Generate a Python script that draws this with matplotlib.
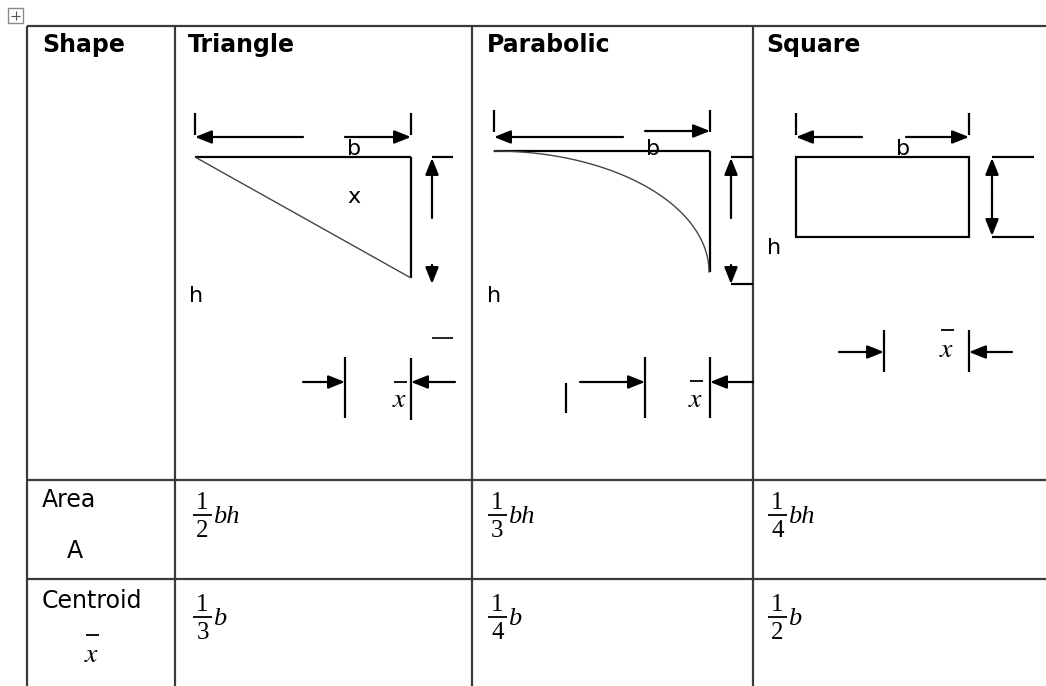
import matplotlib.pyplot as plt
from matplotlib.patches import Rectangle
import numpy as np

plt.rcParams['mathtext.fontset'] = 'stix'

# table content
headers = ["Shape", "Triangle", "Parabolic", "Square"]
row_labels = ["Area", "Centroid"]
area_num = ["1", "1", "1"]
area_den = ["2", "3", "4"]
area_var = "bh"
centroid_num = ["1", "1", "1"]
centroid_den = ["3", "4", "2"]
centroid_var = "b"

# layout in pixels
W, H = 1046, 686
col_x = [27, 175, 472, 753, 1046]
row_y = [26, 480, 579, 686]

fig = plt.figure(figsize=(W / 100, H / 100), dpi=100)
ax = fig.add_axes([0, 0, 1, 1])
ax.set_xlim(0, W)
ax.set_ylim(H, 0)
ax.axis('off')

GRID = '#3a3a3a'
INK = 'black'
SANS = 'DejaVu Sans'
SERIF = 'Liberation Serif'


def line(x0, y0, x1, y1, lw=1.6, color=INK):
    ax.plot([x0, x1], [y0, y1], color=color, lw=lw, solid_capstyle='butt')


def arrow(x0, y0, x1, y1):
    # head drawn at (x1, y1)
    ax.annotate('', xy=(x1, y1), xytext=(x0, y0),
                arrowprops=dict(arrowstyle='-|>,head_length=1.0,head_width=0.4',
                                color=INK, lw=1.6, shrinkA=0, shrinkB=0,
                                mutation_scale=10))


def xbar(cx, bar_y, x_y):
    # Word-style x with a bar set well above it
    line(cx - 6.5, bar_y, cx + 6.5, bar_y, lw=1.3)
    ax.text(cx, x_y, r'$x$', fontsize=20, ha='center', va='center')


def label(x, y, s, size=16):
    ax.text(x, y, s, fontsize=size, family=SANS, ha='left', va='baseline')


def fraction(x, bar_y, num, den, var):
    ax.text(x + 9.5, bar_y - 1, num, fontsize=18, family=SERIF, ha='center', va='bottom')
    line(x, bar_y, x + 19, bar_y, lw=1.3)
    ax.text(x + 9.5, bar_y + 5, den, fontsize=18, family=SERIF, ha='center', va='top')
    ax.text(x + 20, bar_y + 8, var, fontsize=19, family=SERIF, style='italic',
            ha='left', va='baseline')


# grid lines
line(col_x[0], row_y[0], col_x[-1], row_y[0], color=GRID)
for y in row_y[1:3]:
    line(col_x[0], y, col_x[-1], y, color=GRID)
for x in col_x[:4]:
    line(x, row_y[0], x, row_y[-1], color=GRID)

# move handle icon
ax.add_patch(Rectangle((8, 8), 15, 15, fill=False, ec='#8a8a8a', lw=1))
line(11, 15.5, 20, 15.5, lw=0.8, color='#555555')
line(15.5, 11, 15.5, 20, lw=0.8, color='#555555')

# headers
head_x = [42, 188, 487, 766]
for hx, txt in zip(head_x, headers):
    ax.text(hx, 52, txt, fontsize=17, fontweight='bold', family=SANS,
            va='baseline', ha='left')

# ---- triangle ----
line(195, 113, 195, 135)
line(411, 113, 411, 135)
arrow(303, 137, 195, 137)
arrow(345, 137, 411, 137)
label(347, 155, 'b')
line(195, 157, 411, 157)
line(411, 157, 411, 278)
line(195, 157, 411, 278, lw=1.0, color='#444444')
label(347, 203, 'x')
line(432, 157, 453, 157)
arrow(432, 218, 432, 158)
arrow(432, 265, 432, 284)
label(189, 302, 'h')
line(432, 338, 453, 338, lw=1.2)
line(345, 357, 345, 418)
line(411, 358, 411, 420)
arrow(303, 382, 345, 382)
arrow(455, 382, 411, 382)
xbar(400, 382, 399)

# ---- parabolic ----
line(494, 110, 494, 132)
line(710, 110, 710, 132)
arrow(623, 137, 494, 137)
arrow(645, 131, 710, 131)
label(646, 155, 'b')
line(494, 151, 710, 151)
line(710, 151, 710, 272)
th = np.linspace(0, np.pi / 2, 100)
ax.plot(494 + 215 * np.sin(th), 151 + 121 * (1 - np.cos(th)), color='#444444', lw=1.0)
line(731, 157, 753, 157)
arrow(731, 218, 731, 158)
arrow(731, 265, 731, 284)
line(731, 284, 753, 284)
label(487, 302, 'h')
line(566, 383, 566, 413)
arrow(580, 382, 645, 382)
line(645, 357, 645, 418)
line(710, 357, 710, 418)
arrow(753, 382, 710, 382)
xbar(696, 381, 399)

# ---- square ----
line(796, 113, 796, 135)
line(969, 113, 969, 135)
arrow(862, 137, 796, 137)
arrow(906, 137, 969, 137)
label(896, 155, 'b')
ax.add_patch(Rectangle((796, 157), 173, 80, fill=False, ec=INK, lw=1.6))
line(992, 157, 1034, 157)
line(992, 237, 1034, 237)
arrow(992, 197, 992, 158)
arrow(992, 197, 992, 236)
label(767, 254, 'h')
arrow(839, 352, 884, 352)
line(884, 330, 884, 372)
line(969, 330, 969, 372)
arrow(1012, 352, 969, 352)
xbar(947, 330, 349)

# ---- bottom rows ----
label(42, 507, row_labels[0], size=17)
ax.text(75, 558, 'A', fontsize=17, family=SANS, va='baseline', ha='center')
label(42, 608, row_labels[1], size=17)
xbar(92, 635, 654)

frac_x = [193, 488, 768]
for fx, n, d in zip(frac_x, area_num, area_den):
    fraction(fx, 515, n, d, area_var)
for fx, n, d in zip(frac_x, centroid_num, centroid_den):
    fraction(fx, 617, n, d, centroid_var)

fig.savefig('out.png', dpi=100)
